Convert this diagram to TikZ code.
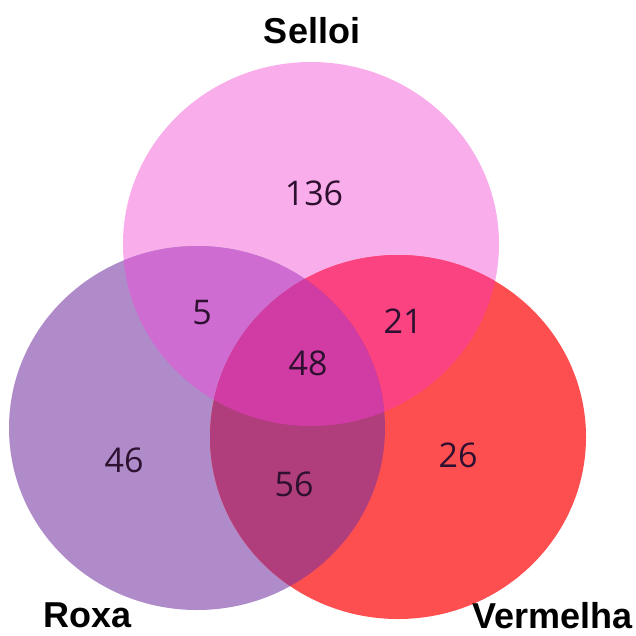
\documentclass[tikz,border=0pt]{standalone}
\usepackage{fontspec}
\setmainfont{Liberation Sans}
\newfontfamily\numfont{Open Sans}
\definecolor{cS}{HTML}{F9ADEA}
\definecolor{cR}{HTML}{AF8BC9}
\definecolor{cV}{HTML}{FE4F50}
\definecolor{cSR}{HTML}{CF6CD2}
\definecolor{cSV}{HTML}{FB4381}
\definecolor{cRV}{HTML}{B03D7C}
\definecolor{cSRV}{HTML}{D13CA4}
\definecolor{numtxt}{HTML}{2E1030}
\tikzset{
  setlabel/.style={font=\bfseries\fontsize{36}{40}\selectfont, text=black, inner sep=0pt},
  count/.style={font=\numfont\fontsize{34}{38}\selectfont, text=numtxt, inner sep=0pt}
}
\newcommand{\ellS}{(311,244) ellipse [x radius=188, y radius=182]}
\newcommand{\ellR}{(197,428) ellipse [x radius=188, y radius=182]}
\newcommand{\ellV}{(398,437) ellipse [x radius=188, y radius=182]}
\begin{document}
\begin{tikzpicture}[x=1pt,y=-1pt]
\useasboundingbox (0,0) rectangle (636,635);
\fill[white] (0,0) rectangle (636,635);
% single sets
\fill[cS] \ellS;
\fill[cR] \ellR;
\fill[cV] \ellV;
% pairwise
\begin{scope}
  \clip \ellS;
  \fill[cSR] \ellR;
  \fill[cSV] \ellV;
\end{scope}
\begin{scope}
  \clip \ellR;
  \fill[cRV] \ellV;
\end{scope}
% triple
\begin{scope}
  \clip \ellS;
  \clip \ellR;
  \fill[cSRV] \ellV;
\end{scope}
% labels
\node[setlabel, anchor=base] (selloi) at (312,43) {Selloi};
\node[setlabel, anchor=base west] (roxa) at (43,627) {Roxa};
\node[setlabel, anchor=base east] (vermelha) at (633,628) {Vermelha};
% counts
\node[count] (n136) at (314,193) {136};
\node[count] (n5) at (202,313) {5};
\node[count] (n21) at (403,321) {21};
\node[count] (n48) at (308,363) {48};
\node[count] (n46) at (124,460) {46};
\node[count] (n56) at (294,484) {56};
\node[count] (n26) at (458,455) {26};
\end{tikzpicture}
\end{document}
